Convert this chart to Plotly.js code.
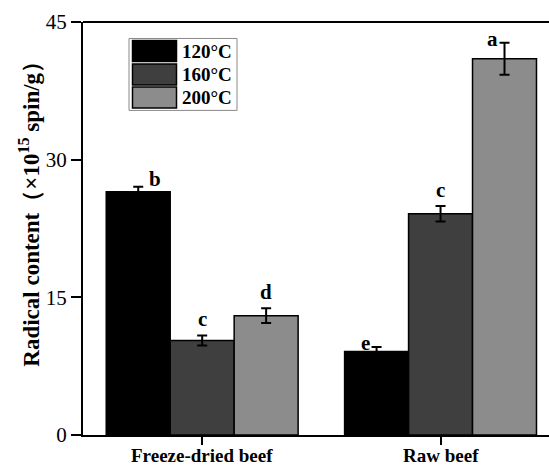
<!DOCTYPE html>
<html>
<head>
<meta charset="utf-8">
<script src="https://cdn.plot.ly/plotly-3.0.1.min.js"></script>
<style>html,body{margin:0;padding:0;background:#fff;}</style>
</head>
<body>
<div id="chart" style="width:549px;height:468px;"></div>
<script>
const categories = ["Freeze-dried beef", "Raw beef"];
const seriesNames = ["120°C", "160°C", "200°C"];
const values120 = [26.5, 9.1];
const values160 = [10.3, 24.1];
const values200 = [13.0, 41.0];
const errors120 = [0.55, 0.5];
const errors160 = [0.55, 0.85];
const errors200 = [0.8, 1.75];
const letters120 = ["b", "e"];
const letters160 = ["c", "c"];
const letters200 = ["d", "a"];
const colors = ["#000000", "#3f3f3f", "#8c8c8c"];

const FONT = "'Liberation Serif', 'Times New Roman', serif";
const vals = [values120, values160, values200];
const errs = [errors120, errors160, errors200];
const lets = [letters120, letters160, letters200];

const traces = vals.map((v, i) => ({
  type: "bar",
  name: seriesNames[i],
  x: categories,
  y: v,
  marker: {color: colors[i], line: {color: "#000", width: 1.5}},
  error_y: {type: "data", array: errs[i], visible: true, color: "#000", thickness: 2, width: 5},
  showlegend: false,
  hoverinfo: "none"
}));

const barW = 0.805 / 3;
const letterShift = [[17, -11], [0, 0], [0, -12]];
const letterAt = [[false, true], [false, false], [false, true]];
const annotations = [];
for (let i = 0; i < 3; i++) {
  for (let j = 0; j < categories.length; j++) {
    const top = vals[i][j] + errs[i][j];
    annotations.push({
      x: j + (i - 1) * barW, xref: "x",
      y: top, yref: "y",
      text: "<b>" + lets[i][j] + "</b>",
      showarrow: false,
      xanchor: "center",
      yanchor: letterAt[i][j] ? "middle" : "bottom",
      xshift: letterShift[i][j],
      yshift: letterAt[i][j] ? 4 : (i === 0 && j === 0 ? -6 : 2),
      font: {family: FONT, size: 21, color: "#000"}
    });
  }
}

// category labels under the x axis
categories.forEach((c, j) => {
  annotations.push({
    x: j, xref: "x", y: 0, yref: "paper",
    text: "<b>" + c + "</b>", showarrow: false,
    xanchor: "center", yanchor: "middle", yshift: -20,
    font: {family: FONT, size: 19, color: "#000"}
  });
});

annotations.push({
  xref: "paper", yref: "paper", x: 0, y: 0.548,
  xshift: -53,
  text: "<b>Radical content（×10<sup>15</sup> spin/g）</b>",
  textangle: -90,
  showarrow: false,
  xanchor: "center", yanchor: "middle",
  font: {family: FONT, size: 23, color: "#000"}
});

const shapes = [
  {type: "line", xref: "paper", yref: "paper", x0: 0, x1: 1, y0: 1, y1: 1, line: {color: "#000", width: 2}},
  {type: "rect", xref: "paper", yref: "paper",
   x0: (129 - 83) / 466, x1: (237 - 83) / 466,
   y0: (435 - 110) / 413.5, y1: (435 - 38) / 413.5,
   line: {color: "#888", width: 1}, fillcolor: "rgba(0,0,0,0)"}
];
const rowTop = [40, 63.5, 86.5];
for (let i = 0; i < 3; i++) {
  shapes.push({type: "rect", xref: "paper", yref: "paper",
    x0: (132.5 - 83) / 466, x1: (176.5 - 83) / 466,
    y0: (435 - (rowTop[i] + 21)) / 413.5, y1: (435 - rowTop[i]) / 413.5,
    line: {color: "#000", width: 1.5}, fillcolor: colors[i]});
  annotations.push({xref: "paper", yref: "paper",
    x: (180 - 83) / 466, y: (435 - (rowTop[i] + 11)) / 413.5,
    text: "<b>" + seriesNames[i] + "</b>", showarrow: false,
    xanchor: "left", yanchor: "middle",
    font: {family: FONT, size: 19, color: "#000"}});
}

const layout = {
  width: 549, height: 468,
  margin: {l: 83, r: 0, t: 21.5, b: 33, pad: 0},
  paper_bgcolor: "#fff", plot_bgcolor: "#fff",
  barmode: "group", bargap: 0.195, bargroupgap: 0,
  showlegend: false,
  xaxis: {
    type: "category", range: [-0.5, 1.455],
    showline: true, linecolor: "#000", linewidth: 2,
    ticks: "outside", ticklen: 8, tickwidth: 2, tickcolor: "#000",
    showticklabels: false,
    showgrid: false, zeroline: false, fixedrange: true
  },
  yaxis: {
    range: [0, 45], tickvals: [0, 15, 30, 45],
    showline: true, linecolor: "#000", linewidth: 2,
    ticks: "outside", ticklen: 10, tickwidth: 2, tickcolor: "#000",
    tickfont: {family: FONT, size: 21, color: "#000"},
    tickprefix: "<b>", ticksuffix: "</b>",
    showgrid: false, zeroline: false, fixedrange: true
  },
  shapes: shapes,
  annotations: annotations
};

Plotly.newPlot("chart", traces, layout, {displayModeBar: false, staticPlot: true});
</script>
</body>
</html>
